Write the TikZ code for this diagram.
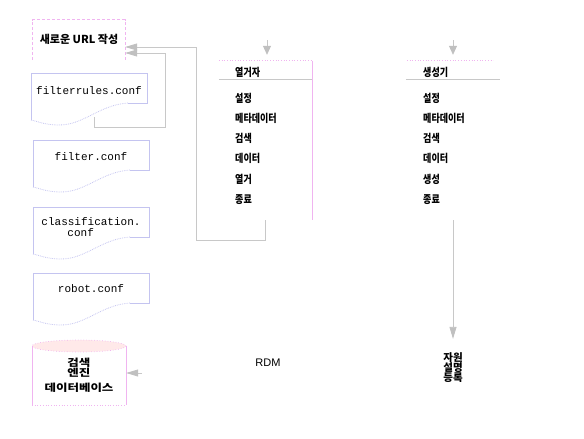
\documentclass[tikz,border=0pt]{standalone}
\usepackage{fontspec}
\setmainfont{Liberation Sans}
\newfontfamily\kr{Noto Sans CJK KR}
\newfontfamily\krn{Noto Sans CJK KR}[FakeStretch=0.82]
\newfontfamily\krw{Noto Sans CJK KR}[FakeStretch=1.25]
\newfontfamily\monof{Liberation Mono}
\usetikzlibrary{arrows.meta,calc}
\definecolor{docc}{HTML}{C4C4F0}
\definecolor{pinkc}{HTML}{F0B4F0}
\definecolor{connc}{HTML}{C8C8C8}
\definecolor{tipc}{HTML}{C0C0C0}
\newcommand\docshape[2]{%
  \draw[docline] ($(#1.center)+(-58,{47-#2})$) -- ($(#1.center)+(-58,-#2)$) -- ($(#1.center)+(58,-#2)$) -- ($(#1.center)+(58,{30-#2})$) -- ($(#1.center)+(39,{30-#2})$);
  \draw[docwave] ($(#1.center)+(39,{30-#2})$) .. controls ($(#1.center)+(10,{32-#2})$) and ($(#1.center)+(-5,{52-#2})$) .. ($(#1.center)+(-30,{52-#2})$) .. controls ($(#1.center)+(-45,{52-#2})$) and ($(#1.center)+(-52,{48-#2})$) .. ($(#1.center)+(-58,{47-#2})$);}
\begin{document}
\begin{tikzpicture}[x=1pt,y=-1pt,
  krtext/.style={font=\krn\bfseries\fontsize{11}{12}\selectfont, inner sep=0},
  item/.style={krtext, anchor=west},
  doc/.style={font=\monof\fontsize{11}{10.5}\selectfont, align=center, inner sep=0},
  docline/.style={draw=docc, line width=0.8pt},
  docwave/.style={draw=docc, densely dotted, line width=0.8pt},
  pinkdash/.style={draw=pinkc, densely dashed, line width=0.7pt},
  pinkdot/.style={draw=pinkc, dotted, line width=0.7pt},
  pinkline/.style={draw=pinkc, line width=0.7pt},
  sepline/.style={draw=connc, line width=0.8pt},
  conn/.style={draw=connc, line width=0.8pt},
  arr/.style={conn, -{Triangle[length=12pt,width=7pt,color=tipc]}},
  arrs/.style={conn, -{Triangle[length=9pt,width=8pt,color=tipc]}}]
\useasboundingbox (0,0) rectangle (584,439);
% new URL box
\node[font=\kr\bfseries\fontsize{11}{12}\selectfont, minimum width=92, minimum height=40, inner sep=0] (url) at (79,40) {\raisebox{3pt}{새로운 URL 작성}};
\draw[pinkdash] (url.south west) -- (url.north west) -- (url.north east) -- (url.south east);
% documents
\node[doc] (fr) at (89,91) {filterrules.conf};
\docshape{fr}{18}
\node[doc] (fc) at (91,157) {filter.conf};
\docshape{fc}{17}
\node[doc, align=left] (cl) at (91,227) {classification.\\\hspace*{26pt}conf};
\docshape{cl}{20}
\node[doc] (rb) at (91,289) {robot.conf};
\docshape{rb}{16}
% database cylinder
\node[font=\krw\bfseries\fontsize{10}{10.5}\selectfont, align=center, minimum width=94, inner sep=0] (db) at (79,375) {검색\\엔진\\[4pt]데이터베이스};
\fill[pink!35] ($(db.center)+(0,-29)$) ellipse [x radius=47, y radius=6];
\draw[pinkdot] ($(db.center)+(0,-29)$) ellipse [x radius=47, y radius=6];
\draw[pinkline] ($(db.center)+(-47,-29)$) -- ($(db.center)+(-47,30)$);
\draw[pinkline] ($(db.center)+(47,-29)$) -- ($(db.center)+(47,30)$);
\draw[pinkdot] ($(db.center)+(-47,30)$) -- ($(db.center)+(47,30)$);
% RDM
\node[font=\fontsize{11}{12}\selectfont, inner sep=0] (rdm) at (268,363) {RDM};
\coordinate (rdmout) at (142,373);
\draw[arr] (rdmout) -- (db.east |- rdmout);
% enumerator column
\node[inner sep=0, minimum width=93, minimum height=159] (ebox) at (265.5,140.5) {};
\draw[pinkdot] (ebox.north west) -- (ebox.north east);
\draw[pinkline] (ebox.north east) -- (ebox.south east);
\draw[sepline] ($(ebox.north west)+(0,19)$) -- ($(ebox.north east)+(0,19)$);
\node[item] (ehdr) at (235,72) {열거자};
\node[item] (e1) at (235,98) {설정};
\node[item] (e2) at (235,118) {메타데이터};
\node[item] (e3) at (235,138) {검색};
\node[item] (e4) at (235,158) {데이터};
\node[item] (e5) at (235,179) {열거};
\node[item] (e6) at (235,200) {종료};
\coordinate (ein) at (267,40);
\draw[arrs, shorten >=6pt] (ein) -- (ein |- ebox.north);
% generator column
\node[inner sep=0, minimum width=92, minimum height=159] (gbox) at (453,140.5) {};
\draw[pinkdot] (gbox.north west) -- ($(gbox.north east)+(-6,0)$);
\draw[sepline] ($(gbox.north west)+(-1,19)$) -- ($(gbox.north east)+(1,19)$);
\node[item] (ghdr) at (423,72) {생성기};
\node[item] (g1) at (423,98) {설정};
\node[item] (g2) at (423,118) {메타데이터};
\node[item] (g3) at (423,138) {검색};
\node[item] (g4) at (423,158) {데이터};
\node[item] (g5) at (423,179) {생성};
\node[item] (g6) at (423,200) {종료};
\coordinate (gin) at (453,40);
\draw[arrs, shorten >=6pt] (gin) -- (gin |- gbox.north);
% resource description registration
\node[font=\kr\bfseries\fontsize{10.5}{10}\selectfont, align=center, inner sep=0] (res) at (453,368) {자원\\설명\\등록};
\draw[arr, shorten >=14pt] (gbox.south) -- (res.north);
% feedback connectors
\draw[arr] (ebox.south) -- ++(0,20) -| ($(url.east)+(71,7)$) -- ($(url.east)+(0,7)$);
\draw[arr] ($(fr.center)+(5,26)$) -- ++(0,10) -| ($(url.east)+(40,13)$) -- ($(url.east)+(0,13)$);
\end{tikzpicture}
\end{document}
